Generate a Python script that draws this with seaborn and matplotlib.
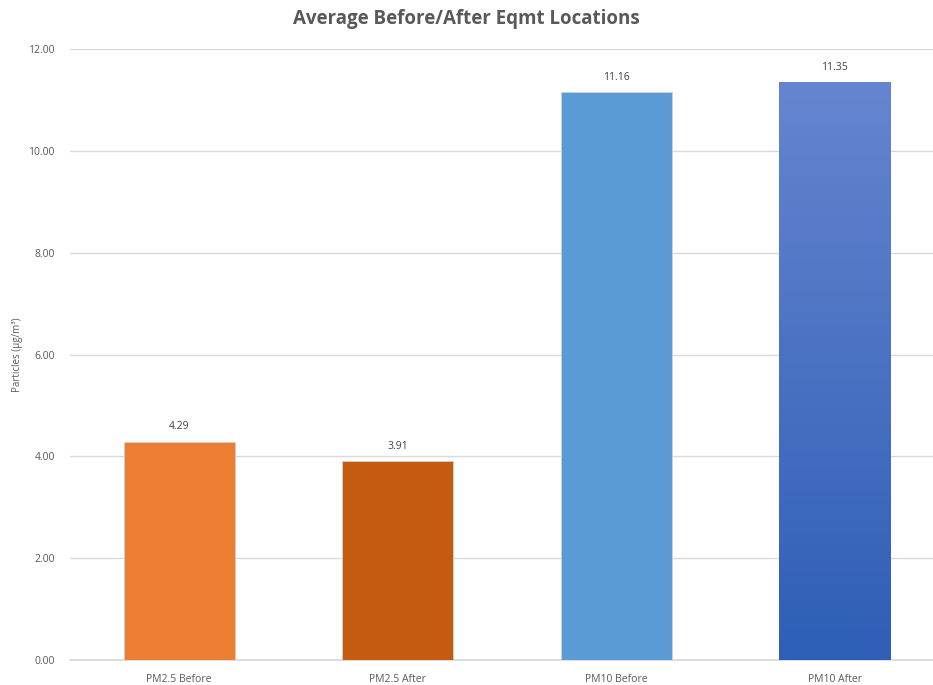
import numpy as np
import pandas as pd
import seaborn as sns
import matplotlib.pyplot as plt
from matplotlib.colors import LinearSegmentedColormap

sns.set_theme(style="white")
plt.rcParams["font.family"] = ["Open Sans", "DejaVu Sans"]

# 数据
categories = ["PM2.5 Before", "PM2.5 After", "PM10 Before", "PM10 After"]
values = [4.29, 3.91, 11.16, 11.35]
bar_colors = ["#ED7D31", "#C55A11", "#5B9BD5", "#4472C4"]
y_ticks = [0, 2, 4, 6, 8, 10, 12]

df = pd.DataFrame({"cat": categories, "val": values})

fig = plt.figure(figsize=(9.33, 6.85), dpi=100)
ax = fig.add_axes([70 / 933, 1 - 660 / 685, 874 / 933, (660 - 49) / 685])

sns.barplot(data=df, x="cat", y="val", hue="cat", palette=bar_colors,
            width=0.51, legend=False, ax=ax, saturation=1, zorder=3,
            edgecolor="#d0d0d0", linewidth=0.6)

# 最后一根柱子用渐变色
last = ax.patches[3]
x0, y0 = last.get_x(), last.get_y()
w, h = last.get_width(), last.get_height()
cmap = LinearSegmentedColormap.from_list("g", ["#2E5EB6", "#6585CF"])
grad = np.linspace(0, 1, 256).reshape(-1, 1)
im = ax.imshow(grad, cmap=cmap, aspect="auto", origin="lower",
               extent=[x0, x0 + w, y0, y0 + h], zorder=3.5)
im.set_clip_path(last)

ax.set_xlim(-0.5, 3.5)
ax.set_ylim(0, 12)
ax.set_yticks(y_ticks)
ax.set_yticklabels([f"{t:.2f}" for t in y_ticks], fontsize=7.5, color="#595959")
ax.tick_params(axis="x", labelsize=7.5, colors="#595959", length=0, pad=10)
ax.tick_params(axis="y", length=0, pad=11)
ax.grid(axis="y", color="#d9d9d9", linewidth=1, zorder=0)
for s in ["top", "right", "left"]:
    ax.spines[s].set_visible(False)
ax.spines["bottom"].set_color("#d9d9d9")

for i, v in enumerate(values):
    ax.text(i, v + 0.18, f"{v:.2f}", ha="center", va="bottom",
            fontsize=7.5, color="#404040")

ax.set_xlabel("")
ax.set_ylabel("")
fig.text(18 / 933, 1 - 355 / 685, "Particles (µg/m³)", rotation=90,
         ha="center", va="center", fontsize=7, color="#595959")
fig.text(0.5, 1 - 19 / 685, "Average Before/After Eqmt Locations",
         ha="center", va="center", fontsize=13.5, fontweight="bold", color="#595959")

fig.savefig("out.png", dpi=100)
